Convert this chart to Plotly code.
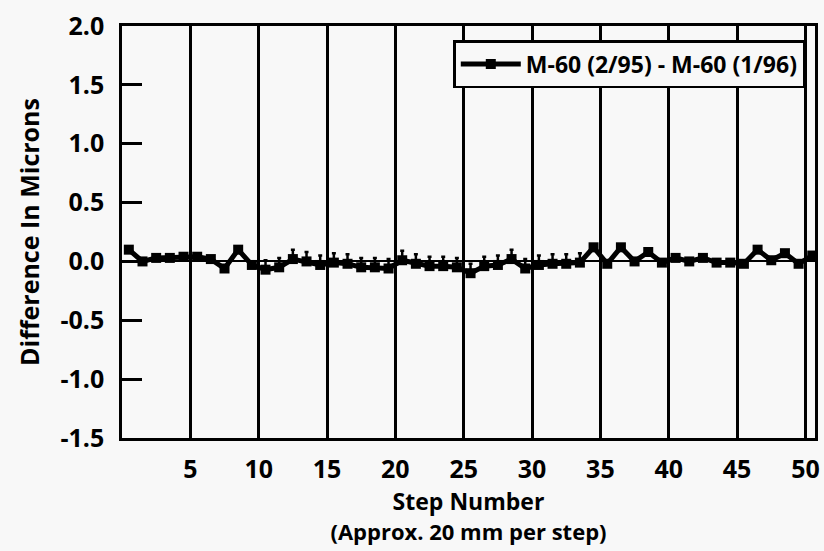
import plotly.graph_objects as go

steps = list(range(1, 52))
diff = [0.10, 0.00, 0.03, 0.03, 0.04, 0.04, 0.02, -0.06, 0.10, -0.03,
        -0.07, -0.05, 0.02, 0.00, -0.03, -0.01, -0.02, -0.05, -0.05, -0.06,
        0.01, -0.02, -0.04, -0.04, -0.05, -0.10, -0.04, -0.03, 0.02, -0.06,
        -0.03, -0.02, -0.02, -0.01, 0.12, -0.02, 0.12, 0.00, 0.08, -0.01,
        0.03, 0.00, 0.03, -0.01, -0.01, -0.02, 0.10, 0.01, 0.07, -0.02, 0.05]
err_up = [0, 0, 0, 0, 0, 0, 0, 0, 0, 0,
          0.08, 0.08, 0.08, 0.08, 0.08, 0.08, 0.08, 0.08, 0.08, 0.08,
          0.08, 0.08, 0.08, 0.08, 0.08, 0.08, 0.08, 0.08, 0.08, 0.08,
          0.08, 0.08, 0.08, 0.08, 0, 0, 0, 0, 0, 0,
          0, 0, 0, 0, 0, 0, 0, 0, 0, 0, 0]
x_ticks = [5, 10, 15, 20, 25, 30, 35, 40, 45, 50]
y_ticks = [-1.5, -1.0, -0.5, 0.0, 0.5, 1.0, 1.5, 2.0]
series_name = "M-60 (2/95) - M-60 (1/96)"

# points sit at the centre of each step interval
xpos = [s - 0.5 for s in steps]

FONT = "Open Sans"
BG = "#f8f8f8"

fig = go.Figure()
fig.add_trace(go.Scatter(
    x=xpos, y=diff, mode="lines+markers", name=series_name,
    line=dict(color="black", width=5),
    marker=dict(symbol="square", size=10, color="black"),
    error_y=dict(type="data", array=err_up, arrayminus=[0] * len(err_up),
                 symmetric=False, color="black", thickness=2.5, width=2),
))

fig.update_layout(
    width=824, height=551,
    margin=dict(l=122, r=4, t=26, b=113),
    paper_bgcolor=BG, plot_bgcolor=BG,
    font=dict(family=FONT, color="black", size=20),
    showlegend=True,
    legend=dict(
        x=0.986, y=0.966, xanchor="right", yanchor="top",
        bgcolor=BG, bordercolor="black", borderwidth=2.5,
        font=dict(family=FONT, size=23, weight="bold"),
        itemwidth=60,
    ),
    xaxis=dict(
        range=[0, 50.7], tickvals=x_ticks, ticktext=[str(v) for v in x_ticks],
        showgrid=True, gridcolor="black", gridwidth=2.5,
        showline=True, linecolor="black", linewidth=2.5, mirror=True,
        ticks="", ticklabelstandoff=7, zeroline=False,
        tickfont=dict(family=FONT, size=25, weight="bold"),
        title=dict(
            text="<b>Step Number</b><br><b><span style='font-size:22px'>(Approx. 20 mm per step)</span></b>",
            font=dict(family=FONT, size=23), standoff=0,
        ),
    ),
    yaxis=dict(
        range=[-1.5, 2.0], tickvals=y_ticks,
        ticktext=["%.1f" % v for v in y_ticks],
        showgrid=False,
        showline=True, linecolor="black", linewidth=2.5, mirror=True,
        ticks="inside", ticklen=20, tickwidth=2.5, tickcolor="black",
        ticklabelstandoff=10,
        zeroline=True, zerolinecolor="black", zerolinewidth=1.5,
        tickfont=dict(family=FONT, size=25, weight="bold"),
        title=dict(text="<b>Difference In Microns</b>",
                   font=dict(family=FONT, size=25), standoff=14),
    ),
)

fig.write_html("out.html")
